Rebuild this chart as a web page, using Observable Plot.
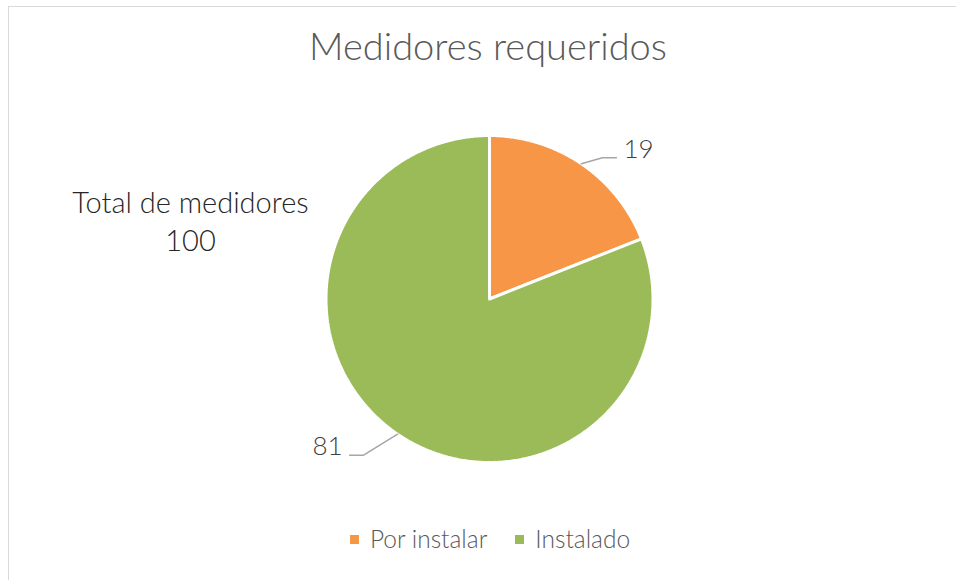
<!DOCTYPE html>
<html><head><meta charset="utf-8">
<script src="https://cdn.jsdelivr.net/npm/d3@7"></script>
<script src="https://cdn.jsdelivr.net/npm/@observablehq/plot@0.6"></script>
<style>
body{margin:0;background:#fff;}
#wrap{position:relative;width:956px;height:580px;overflow:hidden;font-family:Lato,"Open Sans",sans-serif;font-weight:300;}
#frame{position:absolute;left:8px;top:6px;width:1000px;height:1000px;border:1.5px solid #d9d9d9;box-sizing:border-box;}
#title{position:absolute;left:0;width:976px;top:26px;text-align:center;font-size:38px;color:#595959;line-height:1;}
#chart{position:absolute;left:0;top:0;}
#legend{position:absolute;left:0;width:980px;top:527px;display:flex;justify-content:center;gap:28px;font-size:24.5px;color:#595959;line-height:1;}
#legend .item{display:flex;align-items:center;gap:11px;}
#legend .sw{width:9px;height:9px;display:inline-block;}
</style></head>
<body>
<div id="wrap">
  <div id="frame"></div>
  <div id="chart"></div>
  <div id="title"></div>
  <div id="legend"></div>
</div>
<script>
const title = "Medidores requeridos";
const categories = ["Por instalar", "Instalado"];
const values = [19, 81];
const colors = ["#F79646", "#9BBB59"];
const totalLabel = "Total de medidores";

const W = 956, H = 580, CX = 489, CY = 298.5, R = 163.5;
// leader layout (pixel offsets from slice edge to elbow), per slice
const leaderOffsets = [[21, -6], [-34, 21]];
const runPx = 14, gapPx = 7;

const rows = categories.map((c, i) => ({category: c, value: values[i]}));
const arcs = d3.pie().sort(null).value(d => d.value)(rows);

const slicePts = arcs.flatMap(a => {
  const c = a.data.category;
  const pts = [{category: c, x: 0, y: 0}];
  const n = Math.max(2, Math.ceil((a.endAngle - a.startAngle) / (Math.PI / 360)));
  for (let i = 0; i <= n; i++) {
    const t = a.startAngle + (a.endAngle - a.startAngle) * i / n;
    pts.push({category: c, x: Math.sin(t), y: Math.cos(t)});
  }
  pts.push({category: c, x: 0, y: 0});
  return pts;
});

const leaders = [], labels = [];
arcs.forEach((a, i) => {
  const m = (a.startAngle + a.endAngle) / 2;
  const ex = Math.sin(m), ey = Math.cos(m);
  const [ox, oy] = leaderOffsets[i];
  const bx = ex + ox / R, by = ey - oy / R;
  const side = ex >= 0 ? 1 : -1;
  const fx = bx + side * runPx / R;
  leaders.push({k: i, x: ex, y: ey}, {k: i, x: bx, y: by}, {k: i, x: fx, y: by});
  labels.push({x: fx + side * gapPx / R, y: by, text: String(a.data.value), anchor: side > 0 ? "start" : "end"});
});

const total = d3.sum(values);

const plot = Plot.plot({
  width: W, height: H, margin: 0,
  x: {domain: [-CX / R, (W - CX) / R], axis: null},
  y: {domain: [-(H - CY) / R, CY / R], axis: null},
  color: {domain: categories, range: colors},
  style: {fontFamily: "Lato, 'Open Sans', sans-serif", background: "transparent"},
  marks: [
    Plot.line(slicePts, {x: "x", y: "y", z: "category", fill: "category", stroke: "white", strokeWidth: 3, strokeLinejoin: "miter"}),
    Plot.line(leaders, {x: "x", y: "y", z: "k", stroke: "#a6a6a6", strokeWidth: 1.5}),
    Plot.text(labels.filter(d => d.anchor === "start"), {x: "x", y: "y", text: "text", textAnchor: "start", lineAnchor: "bottom", fontSize: 26, fill: "#404040", fontWeight: 300}),
    Plot.text(labels.filter(d => d.anchor === "end"), {x: "x", y: "y", text: "text", textAnchor: "end", lineAnchor: "bottom", fontSize: 26, fill: "#404040", fontWeight: 300}),
    Plot.text([`${totalLabel}\n${total}`], {frameAnchor: "top-left", dx: 190, dy: 186, text: d => d, textAnchor: "middle", lineAnchor: "top", lineHeight: 1.31, fontSize: 29, fill: "#262626", fontWeight: 300})
  ]
});
document.getElementById("chart").appendChild(plot);
document.getElementById("title").textContent = title;
const lg = document.getElementById("legend");
categories.forEach((c, i) => {
  const it = document.createElement("div"); it.className = "item";
  const sw = document.createElement("span"); sw.className = "sw"; sw.style.background = colors[i];
  const tx = document.createElement("span"); tx.textContent = c;
  it.appendChild(sw); it.appendChild(tx); lg.appendChild(it);
});
</script>
</body></html>
